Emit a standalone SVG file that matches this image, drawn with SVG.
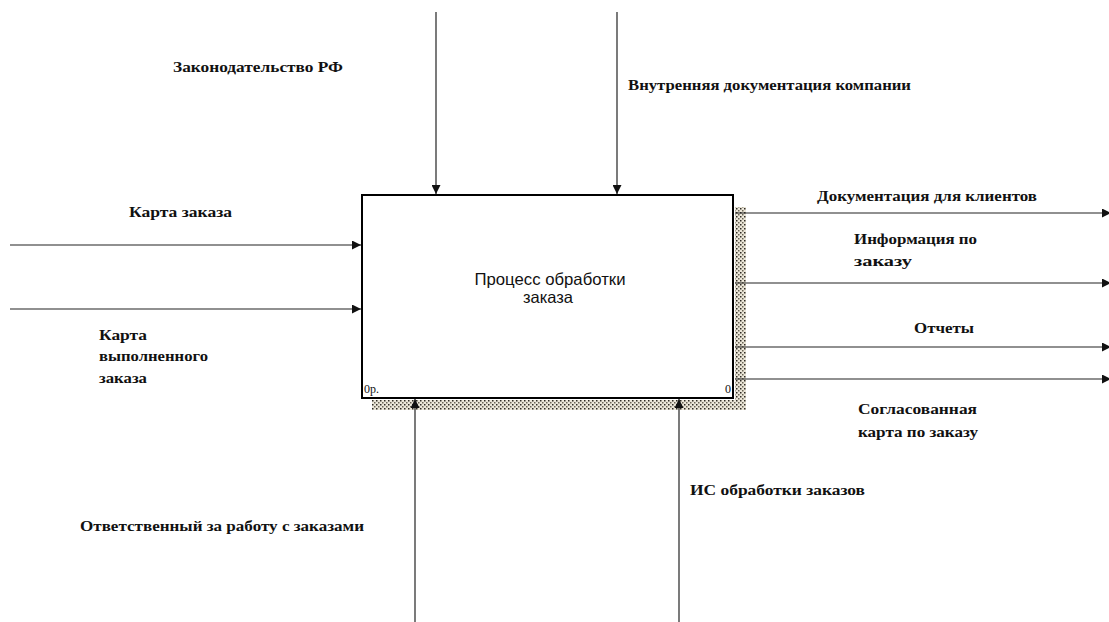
<svg xmlns="http://www.w3.org/2000/svg" width="1109" height="622" viewBox="0 0 1109 622">
  <style>
    .lbl { font-family: "Liberation Serif", "Times New Roman", serif; font-weight: bold; font-size: 14.5px; fill: #111; }
    .title { font-family: "Liberation Sans", Arial, sans-serif; font-size: 16.5px; fill: #111; }
    .num { font-family: "Liberation Serif", serif; font-size: 12px; fill: #111; }
    .arrow { stroke: #222; stroke-width: 1.2; fill: none; marker-end: url(#head); }
  </style>
  <defs>
    <marker id="head" viewBox="0 0 10 10" refX="10" refY="5" markerWidth="10" markerHeight="9" markerUnits="userSpaceOnUse" orient="auto">
      <path d="M0,0 L10,5 L0,10 z" fill="#111"/>
    </marker>
    <!-- speckled fill used for the box shadow -->
    <pattern id="hatch" width="4" height="4" patternUnits="userSpaceOnUse">
      <rect width="4" height="4" fill="#ebe6d8"/>
      <rect x="0" y="0" width="1.5" height="1.5" fill="#2e2a24"/>
      <rect x="2" y="2" width="1.5" height="1.5" fill="#6a6456"/>
    </pattern>
  </defs>
  <rect width="1109" height="622" fill="#fff"/>

  <!-- activity box with its shadow -->
  <g id="node-process">
    <rect x="735" y="207" width="11" height="203" fill="url(#hatch)"/>
    <rect x="372" y="400" width="374" height="10" fill="url(#hatch)"/>
    <rect x="362" y="195" width="371" height="203" fill="#fff" stroke="#000" stroke-width="2"/>
    <text class="title" x="550" y="285" text-anchor="middle" textLength="151" lengthAdjust="spacingAndGlyphs">Процесс обработки</text>
    <text class="title" x="548" y="303" text-anchor="middle">заказа</text>
    <text class="num" x="364" y="393">0р.</text>
    <text class="num" x="725" y="393">0</text>
  </g>

  <!-- connectors -->
  <g id="connectors">
    <line class="arrow" x1="436" y1="12" x2="436" y2="194"/>
    <line class="arrow" x1="617" y1="12" x2="617" y2="194"/>
    <line class="arrow" x1="10" y1="245" x2="361" y2="245"/>
    <line class="arrow" x1="10" y1="309" x2="361" y2="309"/>
    <line class="arrow" x1="735" y1="213" x2="1111" y2="213"/>
    <line class="arrow" x1="735" y1="283" x2="1111" y2="283"/>
    <line class="arrow" x1="735" y1="347" x2="1111" y2="347"/>
    <line class="arrow" x1="735" y1="379" x2="1111" y2="379"/>
    <line class="arrow" x1="415" y1="622" x2="415" y2="399"/>
    <line class="arrow" x1="679" y1="622" x2="679" y2="399"/>
  </g>

  <!-- arrow labels -->
  <g id="label-control-1"><text class="lbl" x="173" y="72" textLength="170" lengthAdjust="spacingAndGlyphs">Законодательство РФ</text></g>
  <g id="label-control-2"><text class="lbl" x="628" y="90" textLength="283" lengthAdjust="spacingAndGlyphs">Внутренняя документация компании</text></g>
  <g id="label-input-1"><text class="lbl" x="129" y="217" textLength="103" lengthAdjust="spacingAndGlyphs">Карта заказа</text></g>
  <g id="label-input-2">
    <text class="lbl" x="99" y="340" textLength="48" lengthAdjust="spacingAndGlyphs">Карта</text>
    <text class="lbl" x="99" y="361" textLength="109" lengthAdjust="spacingAndGlyphs">выполненного</text>
    <text class="lbl" x="99" y="383" textLength="48" lengthAdjust="spacingAndGlyphs">заказа</text>
  </g>
  <g id="label-output-1"><text class="lbl" x="817" y="201" textLength="220" lengthAdjust="spacingAndGlyphs">Документация для клиентов</text></g>
  <g id="label-output-2">
    <text class="lbl" x="854" y="244" textLength="123" lengthAdjust="spacingAndGlyphs">Информация по</text>
    <text class="lbl" x="854" y="266" textLength="58" lengthAdjust="spacingAndGlyphs">заказу</text>
  </g>
  <g id="label-output-3"><text class="lbl" x="914" y="333" textLength="60" lengthAdjust="spacingAndGlyphs">Отчеты</text></g>
  <g id="label-output-4">
    <text class="lbl" x="858" y="414" textLength="119" lengthAdjust="spacingAndGlyphs">Согласованная</text>
    <text class="lbl" x="858" y="437" textLength="120" lengthAdjust="spacingAndGlyphs">карта по заказу</text>
  </g>
  <g id="label-mechanism-1"><text class="lbl" x="80" y="531" textLength="284" lengthAdjust="spacingAndGlyphs">Ответственный за работу с заказами</text></g>
  <g id="label-mechanism-2"><text class="lbl" x="690" y="495" textLength="175" lengthAdjust="spacingAndGlyphs">ИС обработки заказов</text></g>
</svg>
